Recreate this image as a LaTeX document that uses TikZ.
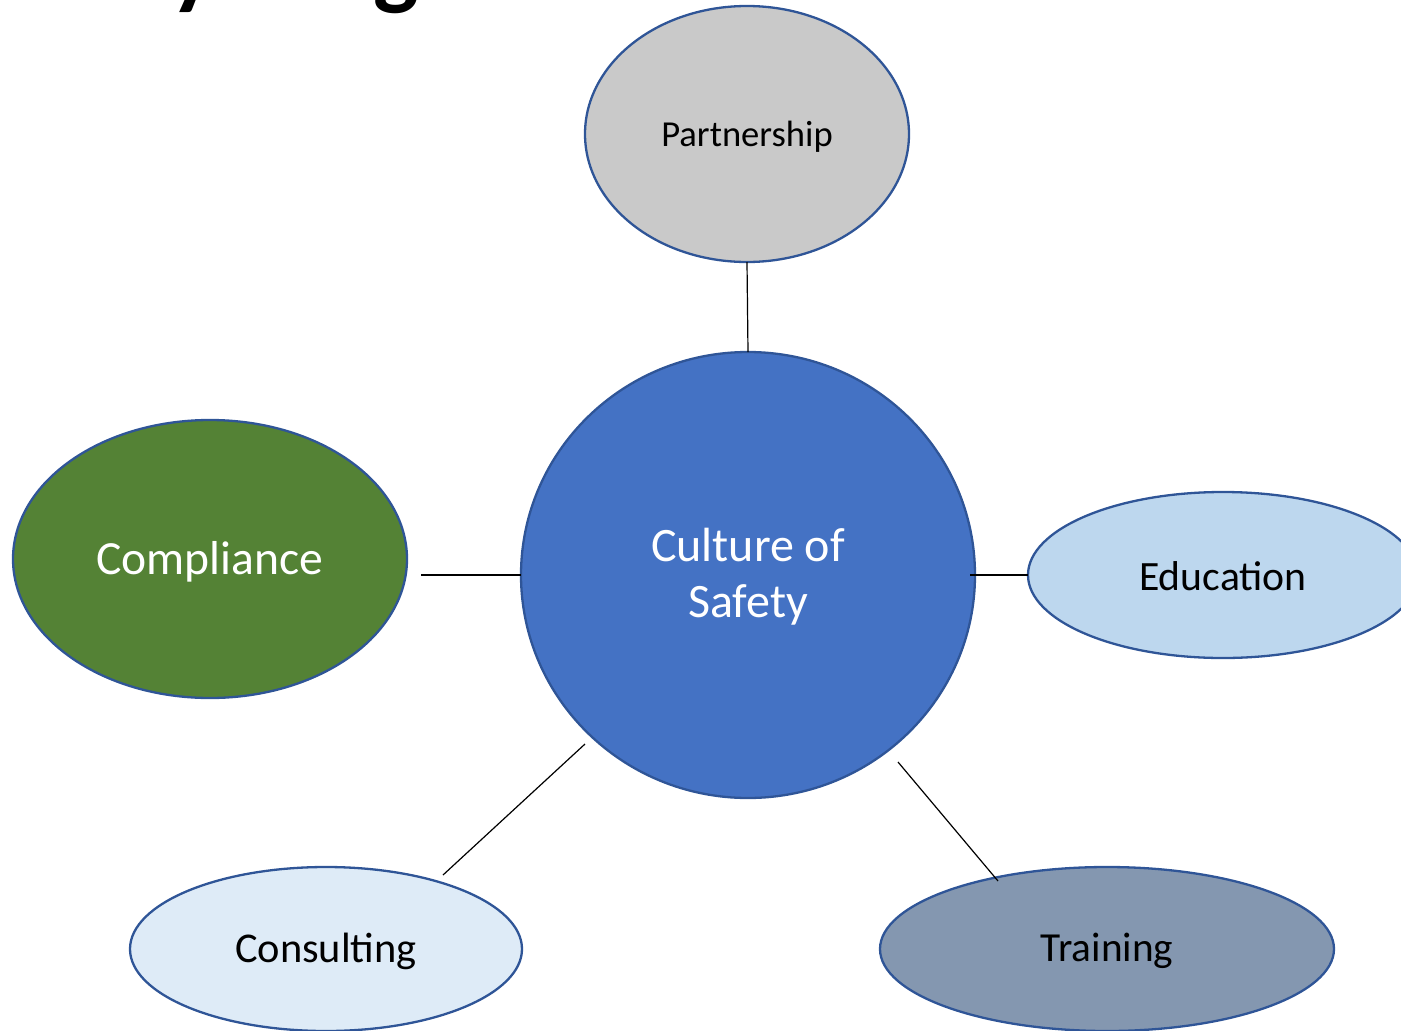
\documentclass[tikz,border=0pt]{standalone}
\usepackage{fontspec}
\setmainfont{Carlito}
\usetikzlibrary{shapes.geometric}
\definecolor{bordc}{HTML}{2F5597}
\definecolor{partc}{HTML}{C9C9C9}
\definecolor{cosc}{HTML}{4472C4}
\definecolor{compc}{HTML}{548235}
\definecolor{educ}{HTML}{BDD7EE}
\definecolor{consc}{HTML}{DEEBF7}
\definecolor{trainc}{HTML}{8497B0}
\newcommand{\dn}[2][-3pt]{\raisebox{#1}[\height][\depth]{#2}}
\begin{document}
\begin{tikzpicture}[x=1pt,y=-1pt,
  bubble/.style={ellipse, draw=bordc, line width=2.3pt, inner sep=0pt, outer sep=0pt},
  link/.style={draw=black, line width=1.2pt},
  fnt/.style={font=\fontsize{#1}{#1}\selectfont}]
\useasboundingbox (0,0) rectangle (1401,1031);
\begin{scope}
\clip (0,0) rectangle (1401,1031);
\node[anchor=base west, font=\bfseries\fontsize{96}{96}\selectfont, inner sep=0pt] (title) at (-32,-3) {Safety Program};
\node[bubble, fill=partc, minimum width=324pt, minimum height=256pt, fnt=36.6] (part) at (747,134) {\dn{Partnership}};
\node[bubble, fill=cosc, text=white, minimum width=454pt, minimum height=446pt, fnt=48] (cos) at (748,575) {\dn[-5pt]{\begin{tabular}{@{}c@{}}Culture of\\[8pt]Safety\end{tabular}}};
\node[bubble, fill=compc, text=white, minimum width=394pt, minimum height=278pt, fnt=47.6] (comp) at (210,559) {\dn{Compliance}};
\node[bubble, fill=educ, minimum width=390pt, minimum height=166pt, fnt=41.7] (edu) at (1223,575) {\dn[-1pt]{Education}};
\node[bubble, fill=consc, minimum width=392pt, minimum height=164pt, fnt=42.4] (cons) at (326,949) {\dn[-2pt]{Consulting}};
\node[bubble, fill=trainc, minimum width=454pt, minimum height=164pt, fnt=41.3] (train) at (1107,949) {\dn[-2pt]{Training}};
\coordinate (compend) at (421,575);
\coordinate (eduend) at (970,575);
\coordinate (consA) at (443,875);
\coordinate (consB) at (585,744);
\coordinate (trainA) at (898,762);
\coordinate (trainB) at (998,881);
\draw[link] (part.south) -- (cos.north);
\draw[link] (compend) -- (cos.west);
\draw[link] (eduend) -- (edu.west);
\draw[link] (consA) -- (consB);
\draw[link] (trainA) -- (trainB);
\end{scope}
\end{tikzpicture}
\end{document}
